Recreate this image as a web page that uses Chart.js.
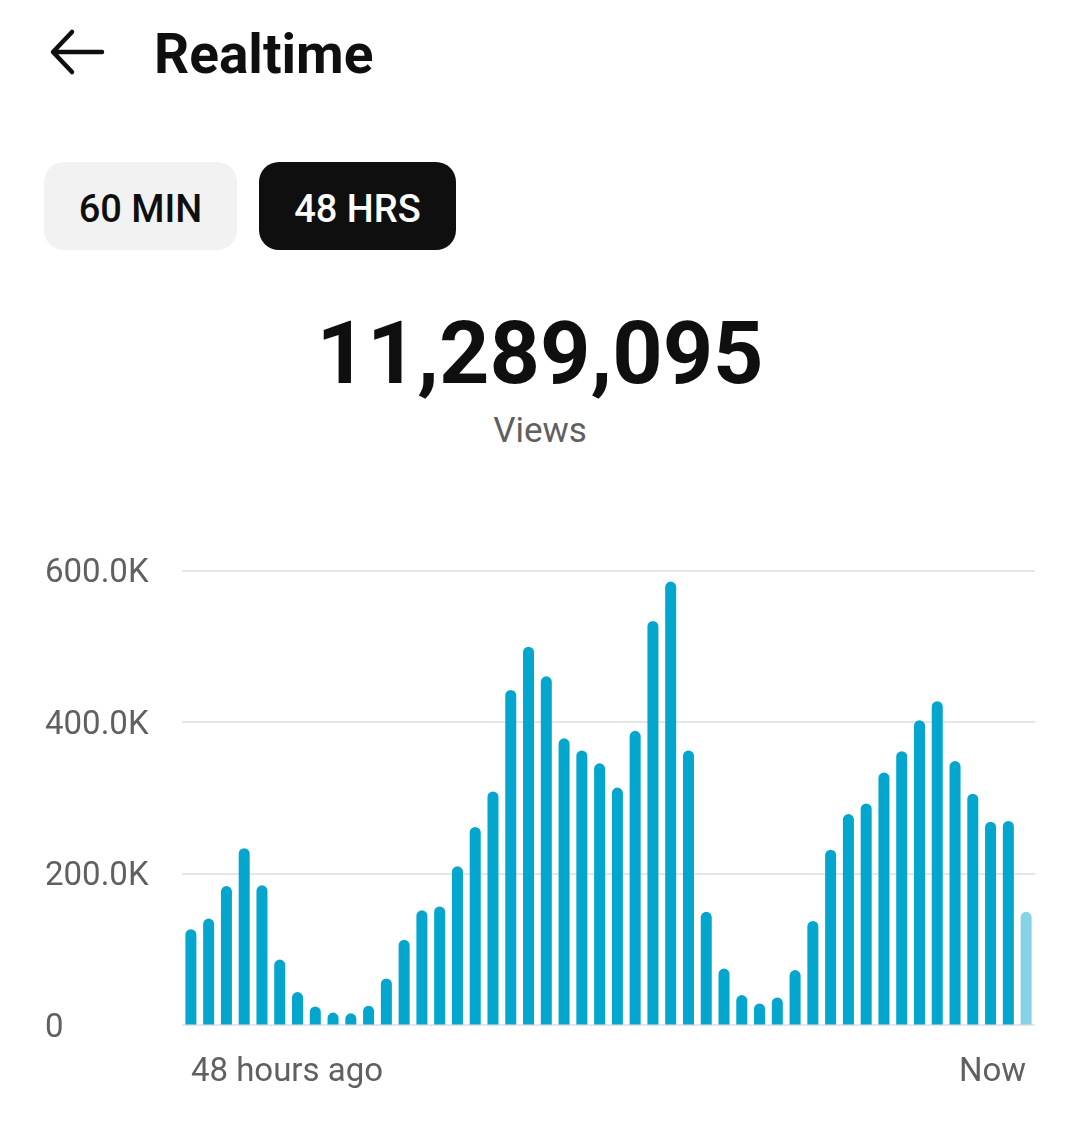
<!DOCTYPE html>
<html>
<head>
<meta charset="utf-8">
<script src="https://cdn.jsdelivr.net/npm/chart.js@4"></script>
<style>
  html, body { margin: 0; padding: 0; background: #ffffff; }
  body { width: 1080px; height: 1140px; position: relative; overflow: hidden; font-family: Roboto, "Noto Sans", sans-serif; color: #0f0f0f; }
  .abs { position: absolute; }
  #title { left: 154px; top: 26px; font-size: 55px; line-height: 56px; font-weight: 700; }
  .btn { position: absolute; top: 162px; height: 88px; box-sizing: border-box; padding-top: 5px; border-radius: 20px; display: flex; align-items: center; justify-content: center; font-size: 38px; font-weight: 500; }
  #b1 { left: 44px; width: 193px; background: #f2f2f2; color: #0f0f0f; }
  #b2 { left: 259px; width: 197px; background: #0f0f0f; color: #ffffff; }
  #total { left: 0; width: 1080px; text-align: center; top: 309px; font-size: 88px; line-height: 88px; font-weight: 700; }
  #views { left: 0; width: 1080px; text-align: center; top: 413px; font-size: 35px; line-height: 35px; color: #606060; }
  #wrap { left: 0; top: 500px; width: 1080px; height: 621px; }
</style>
</head>
<body>
<svg class="abs" style="left:40px;top:20px" width="80" height="70" viewBox="0 0 80 70">
  <path d="M62 32 H15 M32 12 L13 32 L32 52" fill="none" stroke="#0f0f0f" stroke-width="4.5" stroke-linecap="round" stroke-linejoin="round"/>
</svg>
<div id="title" class="abs">Realtime</div>
<div id="b1" class="btn">60 MIN</div>
<div id="b2" class="btn">48 HRS</div>
<div id="total" class="abs">11,289,095</div>
<div id="views" class="abs">Views</div>
<div id="wrap" class="abs"><canvas id="c" width="1080" height="621"></canvas></div>
<script>
// Hours ago for each bar (oldest first)
const hoursAgo = [48,47,46,45,44,43,42,41,40,39,38,37,36,35,34,33,32,31,30,29,28,27,26,25,
                  24,23,22,21,20,19,18,17,16,15,14,13,12,11,10,9,8,7,6,5,4,3,2,1];
// Views per hour, in thousands
const viewsK = [127,141,184,234,185,87,44,25,17,16,26,62,113,152,157,210,262,309,443,500,461,379,363,346,
                314,389,534,586,363,150,75,40,29,37,73,138,232,279,293,334,362,403,428,349,306,269,270,150];
const xTickLabels = ['48 hours ago', 'Now'];
const yTicksK = [0, 200, 400, 600];

const mainColor = '#04a6cd';
const lightColor = '#86d2e6';
const barColors = viewsK.map((_, i) => i === viewsK.length - 1 ? lightColor : mainColor);

new Chart(document.getElementById('c'), {
  type: 'bar',
  data: {
    labels: hoursAgo,
    datasets: [{
      data: viewsK,
      backgroundColor: barColors,
      borderRadius: 6,
      borderSkipped: 'bottom',
      barPercentage: 0.62,
      categoryPercentage: 1.0
    }]
  },
  options: {
    responsive: false,
    devicePixelRatio: 1,
    animation: false,
    layout: { padding: { left: 45, right: 45, top: 71, bottom: 0 } },
    plugins: { legend: { display: false }, tooltip: { enabled: false } },
    scales: {
      x: {
        grid: { display: false, drawTicks: false },
        border: { display: false },
        ticks: {
          autoSkip: false,
          maxRotation: 0,
          align: 'inner',
          padding: 28,
          color: '#606060',
          font: { family: 'Roboto', size: 33 },
          callback: (v, i, ticks) => i === 0 ? xTickLabels[0] : (i === ticks.length - 1 ? xTickLabels[1] : '')
        }
      },
      y: {
        min: yTicksK[0],
        max: yTicksK[yTicksK.length - 1],
        afterBuildTicks: (axis) => { axis.ticks = yTicksK.map(v => ({ value: v })); },
        afterFit: (axis) => { axis.width = 137; },
        grid: { color: '#e6e6e6', lineWidth: 2, drawTicks: false },
        border: { display: false },
        ticks: {
          crossAlign: 'far',
          padding: 10,
          labelOffset: 3,
          color: '#606060',
          font: { family: 'Roboto', size: 33 },
          callback: (v) => v === 0 ? '0' : v.toFixed(1) + 'K'
        }
      }
    }
  }
});
</script>
</body>
</html>
